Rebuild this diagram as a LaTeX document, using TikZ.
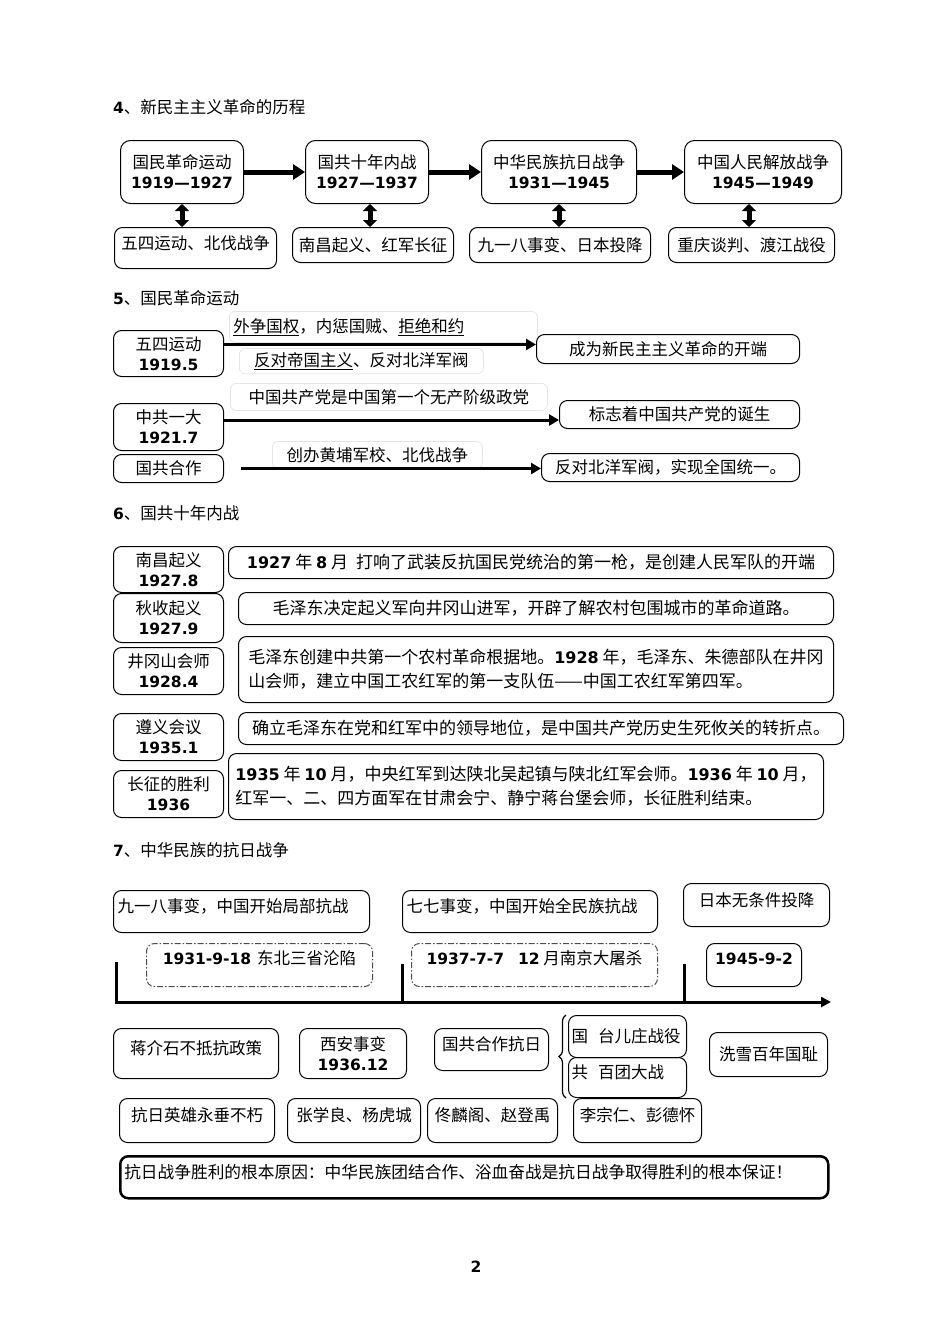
\documentclass[tikz,border=0pt]{standalone}
\usepackage{fontspec}
\setmainfont{Noto Sans CJK SC}
\newfontfamily\numfont{DejaVu Sans}[Scale=0.94]
\newcommand{\bnum}[1]{{\numfont\bfseries #1}}
\usetikzlibrary{arrows.meta, decorations.pathreplacing}
\tikzstyle{heading} = [
    anchor=west,
    inner sep=0pt
]
\tikzstyle{period} = [
    rectangle,
    rounded corners=10pt,
    draw=black,
    line width=1pt,
    anchor=north west,
    align=center
]
\tikzstyle{event} = [
    rectangle,
    rounded corners=8pt,
    draw=black,
    line width=1pt,
    anchor=north west,
    align=center,
    inner sep=3pt
]
\tikzstyle{fact} = [
    event,
    font=\fontsize{17}{24}\selectfont
]
\tikzstyle{hint} = [
    rectangle,
    rounded corners=6pt,
    draw=black!10,
    line width=0.8pt,
    anchor=north west,
    inner sep=4pt
]
\tikzstyle{dashbox} = [
    event,
    draw=black!70,
    dash pattern=on 6pt off 2pt on 1.5pt off 2pt
]
\tikzstyle{raised} = [text height=12pt, text depth=10pt]
\tikzstyle{bigarrow} = [line width=5pt, -{Triangle[length=12pt,width=15pt]}]
\tikzstyle{dblarrow} = [line width=5pt, {Triangle[length=7pt,width=14pt]}-{Triangle[length=7pt,width=14pt]}]
\tikzstyle{linkarrow} = [line width=3pt, -{Triangle[length=10pt,width=11pt]}]
\tikzstyle{timeline} = [line width=3pt, -{Triangle[length=10pt,width=10pt]}]
\tikzstyle{stem} = [line width=3pt]
\tikzstyle{bracket} = [decorate, decoration={brace, amplitude=7pt}, line width=1.2pt]

\begin{document}
\begin{tikzpicture}[x=1pt, y=-1pt, font=\fontsize{16.5}{20}\selectfont]
\useasboundingbox (0,0) rectangle (950,1344);

% 4
\node (t4) [heading] at (113,107) {\bnum{4}、新民主主义革命的历程};

\node (rev1) [period, minimum width=123pt, minimum height=63pt] at (120,140)
{国民革命运动\\\bnum{1919—1927}};
\node (rev2) [period, minimum width=123pt, minimum height=63pt] at (305,140)
{国共十年内战\\\bnum{1927—1937}};
\node (rev3) [period, minimum width=155pt, minimum height=63pt] at (481,140)
{中华民族抗日战争\\\bnum{1931—1945}};
\node (rev4) [period, minimum width=157pt, minimum height=63pt] at (684,140)
{中国人民解放战争\\\bnum{1945—1949}};

\node (ev1) [event, raised, minimum width=162pt, minimum height=41pt] at (114,227)
{五四运动、北伐战争};
\node (ev2) [event, minimum width=161pt, minimum height=35pt] at (292,227)
{南昌起义、红军长征};
\node (ev3) [event, minimum width=181pt, minimum height=35pt] at (469,227)
{九一八事变、日本投降};
\node (ev4) [event, minimum width=166pt, minimum height=35pt] at (668,227)
{重庆谈判、渡江战役};

\draw [bigarrow] (rev1) -- (rev2);
\draw [bigarrow] (rev2) -- (rev3);
\draw [bigarrow] (rev3) -- (rev4);

\draw [dblarrow] (rev1.south) -- (rev1.south |- ev1.north);
\draw [dblarrow] ([xshift=3pt]rev2.south) -- ([xshift=3pt]rev2.south |- ev2.north);
\draw [dblarrow] (rev3.south) -- (rev3.south |- ev3.north);
\draw [dblarrow] ([xshift=-14pt]rev4.south) -- ([xshift=-14pt]rev4.south |- ev4.north);

% 5
\node (t5) [heading] at (113,298) {\bnum{5}、国民革命运动};

\node (may4) [event, minimum width=110pt, minimum height=46pt] at (113,330)
{五四运动\\\bnum{1919.5}};
\node (may4a) [hint, minimum width=308pt, minimum height=31pt, text width=300pt, align=left] at (229,311)
{\underline{外争国权}，内惩国贼、\underline{拒绝和约}};
\node (may4b) [hint, minimum width=244pt, minimum height=24pt] at (239,348)
{\underline{反对帝国主义}、反对北洋军阀};
\node (may4r) [event, minimum width=263pt, minimum height=29pt] at (536,334)
{成为新民主主义革命的开端};

\node (cpc) [event, minimum width=110pt, minimum height=47pt] at (113,403)
{中共一大\\\bnum{1921.7}};
\node (cpca) [hint, minimum width=317pt, minimum height=27pt] at (230,383)
{中国共产党是中国第一个无产阶级政党};
\node (cpcr) [event, minimum width=240pt, minimum height=28pt] at (559,400)
{标志着中国共产党的诞生};

\node (coop) [event, minimum width=110pt, minimum height=28pt] at (113,454)
{国共合作};
\node (coopa) [hint, minimum width=210pt, minimum height=27pt] at (272,441)
{创办黄埔军校、北伐战争};
\node (coopr) [event, minimum width=258pt, minimum height=28pt] at (541,453)
{反对北洋军阀，实现全国统一。};

\draw [linkarrow] ([yshift=9pt]may4.east) -- ([yshift=9pt]may4.east -| may4r.west);
\draw [linkarrow] ([yshift=7pt]cpc.east) -- ([yshift=7pt]cpc.east -| cpcr.west);
\draw [linkarrow] ([xshift=17pt]coop.east) -- (coop.east -| coopr.west);

% 6
\node (t6) [heading] at (113,513) {\bnum{6}、国共十年内战};

\node (nc) [event, minimum width=110pt, minimum height=46pt] at (113,546)
{南昌起义\\\bnum{1927.8}};
\node (qs) [event, minimum width=110pt, minimum height=49pt] at (113,593)
{秋收起义\\\bnum{1927.9}};
\node (jgs) [event, minimum width=110pt, minimum height=47pt] at (113,647)
{井冈山会师\\\bnum{1928.4}};
\node (zy) [event, minimum width=110pt, minimum height=47pt] at (113,713)
{遵义会议\\\bnum{1935.1}};
\node (cz) [event, minimum width=110pt, minimum height=47pt] at (113,770)
{长征的胜利\\\bnum{1936}};

\node (ncx) [fact, minimum width=605pt, minimum height=32pt] at (228,546)
{\bnum{1927} 年 \bnum{8} 月\hspace{8pt}打响了武装反抗国民党统治的第一枪，是创建人民军队的开端};
\node (qsx) [fact, minimum width=595pt, minimum height=32pt] at (238,592)
{毛泽东决定起义军向井冈山进军，开辟了解农村包围城市的革命道路。};
\node (jgsx) [fact, align=left, minimum width=595pt, minimum height=66pt] at (238,636)
{毛泽东创建中共第一个农村革命根据地。\bnum{1928} 年，毛泽东、朱德部队在井冈\\山会师，建立中国工农红军的第一支队伍——中国工农红军第四军。};
\node (zyx) [fact, minimum width=605pt, minimum height=32pt] at (238,712)
{确立毛泽东在党和红军中的领导地位，是中国共产党历史生死攸关的转折点。};
\node (czx) [fact, align=left, minimum width=595pt, minimum height=66pt] at (228,753)
{\bnum{1935} 年 \bnum{10} 月，中央红军到达陕北吴起镇与陕北红军会师。\bnum{1936} 年 \bnum{10} 月，\\红军一、二、四方面军在甘肃会宁、静宁蒋台堡会师，长征胜利结束。};

% 7
\node (t7) [heading] at (113,850) {\bnum{7}、中华民族的抗日战争};

\node (sep18) [event, raised, align=left, inner sep=4pt, text width=248pt, minimum height=42pt] at (113,890)
{九一八事变，中国开始局部抗战};
\node (jul7) [event, raised, align=left, inner sep=4pt, text width=247pt, minimum height=42pt] at (402,890)
{七七事变，中国开始全民族抗战};
\node (surr) [event, raised, minimum width=146pt, minimum height=43pt] at (683,883)
{日本无条件投降};

\node (sep18d) [dashbox, text height=12pt, text depth=14pt, minimum width=226pt, minimum height=43pt] at (146,943)
{\bnum{1931-9-18}\hspace{6pt}东北三省沦陷};
\node (jul7d) [dashbox, text height=12pt, text depth=14pt, minimum width=246pt, minimum height=43pt] at (411,943)
{\bnum{1937-7-7}\hspace{14pt}\bnum{12} 月南京大屠杀};
\node (surrd) [event, text height=12pt, text depth=14pt, minimum width=95pt, minimum height=43pt] at (706,943)
{\bnum{1945-9-2}};

\coordinate (tk1) at (116,962);
\coordinate (tk2) at (402,964);
\coordinate (tk3) at (684,964);
\coordinate (tlend) at (831,1002);
\draw [timeline] (tk1) |- (tlend);
\draw [stem] (tk2) -- (tk2 |- tlend);
\draw [stem] (tk3) -- (tk3 |- tlend);

\node (jiang) [event, raised, minimum width=165pt, minimum height=50pt] at (113,1028)
{蒋介石不抵抗政策};
\node (xian) [event, minimum width=107pt, minimum height=50pt] at (299,1028)
{西安事变\\\bnum{1936.12}};
\node (gchz) [event, raised, minimum width=114pt, minimum height=42pt] at (434,1028)
{国共合作抗日};
\node (tez) [event, align=left, text width=112pt, minimum height=42pt] at (568,1015)
{国\hspace{10pt}台儿庄战役};
\node (btd) [event, raised, align=left, text width=112pt, minimum height=40pt] at (568,1057)
{共\hspace{10pt}百团大战};
\node (xx) [event, minimum width=118pt, minimum height=44pt] at (709,1032)
{洗雪百年国耻};

\draw [bracket] ([xshift=-2pt]btd.south west) -- ([xshift=-2pt]tez.north west);

\node (hero) [event, raised, minimum width=155pt, minimum height=44pt] at (119,1098)
{抗日英雄永垂不朽};
\node (zhang) [event, raised, minimum width=133pt, minimum height=44pt] at (287,1098)
{张学良、杨虎城};
\node (tong) [event, raised, minimum width=130pt, minimum height=44pt] at (427,1098)
{佟麟阁、赵登禹};
\node (li) [event, raised, minimum width=128pt, minimum height=44pt] at (573,1098)
{李宗仁、彭德怀};

\node (why) [event, raised, align=left, line width=2.5pt, inner sep=4pt, text width=700pt, minimum height=42pt, font=\fontsize{16.7}{20}\selectfont] at (119,1155)
{抗日战争胜利的根本原因：中华民族团结合作、浴血奋战是抗日战争取得胜利的根本保证！};

\node (pageno) at (476,1267) {\bnum{2}};

\end{tikzpicture}
\end{document}
